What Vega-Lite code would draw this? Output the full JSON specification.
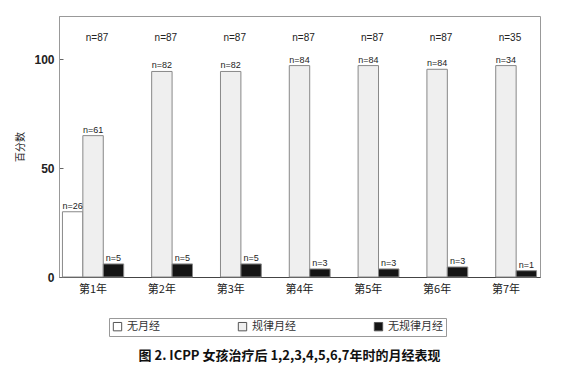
{
  "$schema": "https://vega.github.io/schema/vega-lite/v6.json",
  "autosize": {"type": "none"},
  "padding": {"left": 59, "top": 16, "right": 23, "bottom": 92},
  "width": 481,
  "height": 261,
  "background": "white",
  "config": {
    "view": {"stroke": "#999", "strokeWidth": 1},
    "font": "Liberation Sans"
  },
  "title": {
    "text": "图 2.  ICPP 女孩治疗后 1,2,3,4,5,6,7年时的月经表现",
    "orient": "bottom",
    "anchor": "middle",
    "dx": -10,
    "offset": 13,
    "font": "Noto Sans CJK SC",
    "fontSize": 13,
    "fontWeight": "bold",
    "color": "#111"
  },
  "datasets": {
    "bars": [
      {"year": "第1年", "type": "无月经", "value": 30, "n": "n=26"},
      {"year": "第1年", "type": "规律月经", "value": 65, "n": "n=61"},
      {"year": "第1年", "type": "无规律月经", "value": 6, "n": "n=5"},
      {"year": "第2年", "type": "规律月经", "value": 94.5, "n": "n=82"},
      {"year": "第2年", "type": "无规律月经", "value": 6, "n": "n=5"},
      {"year": "第3年", "type": "规律月经", "value": 94.5, "n": "n=82"},
      {"year": "第3年", "type": "无规律月经", "value": 6, "n": "n=5"},
      {"year": "第4年", "type": "规律月经", "value": 97.2, "n": "n=84"},
      {"year": "第4年", "type": "无规律月经", "value": 3.7, "n": "n=3"},
      {"year": "第5年", "type": "规律月经", "value": 97.2, "n": "n=84"},
      {"year": "第5年", "type": "无规律月经", "value": 3.7, "n": "n=3"},
      {"year": "第6年", "type": "规律月经", "value": 95.5, "n": "n=84"},
      {"year": "第6年", "type": "无规律月经", "value": 4.6, "n": "n=3"},
      {"year": "第7年", "type": "规律月经", "value": 97.2, "n": "n=34"},
      {"year": "第7年", "type": "无规律月经", "value": 2.9, "n": "n=1"}
    ],
    "totals": [
      {"year": "第1年", "pos": 110, "n": "n=87"},
      {"year": "第2年", "pos": 110, "n": "n=87"},
      {"year": "第3年", "pos": 110, "n": "n=87"},
      {"year": "第4年", "pos": 110, "n": "n=87"},
      {"year": "第5年", "pos": 110, "n": "n=87"},
      {"year": "第6年", "pos": 110, "n": "n=87"},
      {"year": "第7年", "pos": 110, "n": "n=35"}
    ]
  },
  "encoding": {
    "x": {
      "field": "year",
      "type": "nominal",
      "sort": ["第1年", "第2年", "第3年", "第4年", "第5年", "第6年", "第7年"],
      "scale": {"paddingInner": 0.11, "paddingOuter": 0.05},
      "axis": {
        "title": null,
        "labelAngle": 0,
        "ticks": false,
        "domainColor": "#444",
        "labelFont": "Noto Sans CJK SC",
        "labelFontSize": 11,
        "labelColor": "#222",
        "labelPadding": 6,
        "labelDx": 10
      }
    }
  },
  "layer": [
    {
      "data": {"name": "bars"},
      "mark": {"type": "bar", "stroke": "#888", "strokeWidth": 1},
      "encoding": {
        "xOffset": {
          "field": "type",
          "type": "nominal",
          "sort": ["无月经", "规律月经", "无规律月经"],
          "scale": {"domain": ["无月经", "规律月经", "无规律月经"], "paddingInner": 0, "paddingOuter": 0}
        },
        "y": {
          "field": "value",
          "type": "quantitative",
          "scale": {"domain": [0, 120]},
          "axis": {
            "title": "百分数",
            "titleFont": "Noto Sans CJK SC",
            "titleFontSize": 10,
            "titleFontWeight": "normal",
            "titleColor": "#222",
            "titlePadding": 8,
            "values": [0, 50, 100],
            "grid": false,
            "tickSize": -4,
            "tickColor": "#666",
            "domainColor": "#999",
            "labelFontSize": 12,
            "labelFontWeight": "bold",
            "labelColor": "#222",
            "labelPadding": 9
          }
        },
        "fill": {
          "field": "type",
          "type": "nominal",
          "scale": {"domain": ["无月经", "规律月经", "无规律月经"], "range": ["#ffffff", "#efefef", "#151515"]},
          "legend": {
            "title": null,
            "orient": "none",
            "legendX": 50,
            "legendY": 302,
            "direction": "horizontal",
            "columns": 3,
            "columnPadding": 76,
            "padding": 3,
            "strokeColor": "#999",
            "symbolType": "square",
            "symbolSize": 70,
            "symbolStrokeColor": "#555",
            "symbolStrokeWidth": 1,
            "labelFont": "Noto Sans CJK SC",
            "labelFontSize": 11,
            "labelColor": "#333"
          }
        }
      }
    },
    {
      "data": {"name": "bars"},
      "mark": {"type": "text", "dy": -6, "fontSize": 9, "color": "#222"},
      "encoding": {
        "xOffset": {"field": "type", "type": "nominal", "sort": ["无月经", "规律月经", "无规律月经"]},
        "y": {"field": "value", "type": "quantitative"},
        "text": {"field": "n"}
      }
    },
    {
      "data": {"name": "totals"},
      "mark": {"type": "text", "dx": 4, "fontSize": 10, "color": "#222"},
      "encoding": {
        "y": {"field": "pos", "type": "quantitative"},
        "text": {"field": "n"}
      }
    }
  ]
}
